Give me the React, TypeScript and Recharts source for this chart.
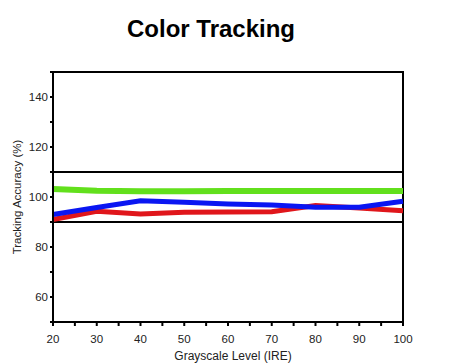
import { LineChart, Line, XAxis, YAxis, ReferenceLine, ReferenceArea } from 'recharts';

const levels = [20, 30, 40, 50, 60, 70, 80, 90, 100];
const red = [91, 94.3, 93.2, 93.9, 94, 94.1, 96.6, 95.6, 94.5];
const green = [103.2, 102.5, 102.3, 102.3, 102.4, 102.4, 102.4, 102.4, 102.4];
const blue = [93, 95.8, 98.5, 97.9, 97.2, 96.8, 95.9, 95.9, 98.3];

const xTicks = [20, 25, 30, 35, 40, 45, 50, 55, 60, 65, 70, 75, 80, 85, 90, 95, 100];
const yTicks = [50, 60, 70, 80, 90, 100, 110, 120, 130, 140, 150];
const yLabelled = [60, 80, 100, 120, 140];

const data = levels.map((level, i) => ({ level, red: red[i], green: green[i], blue: blue[i] }));

const font = '"Liberation Sans", Arial, sans-serif';
const tickStyle = { fontSize: 11.5, fill: '#222', fontFamily: font };

export default function App() {
    return (
        <div style={{ position: 'absolute', left: 0, top: 0, width: 450, height: 364, background: '#fff', fontFamily: font }}>
            <div style={{ position: 'absolute', left: 0, width: 422, top: 15, textAlign: 'center', fontSize: 24, fontWeight: 'bold', color: '#000' }}>
                Color Tracking
            </div>
            <div
                style={{
                    position: 'absolute', left: 17, top: 197, fontSize: 11.5, color: '#222', whiteSpace: 'nowrap',
                    transform: 'translate(-50%, -50%) rotate(-90deg)',
                }}
            >
                Tracking Accuracy (%)
            </div>
            <div style={{ position: 'absolute', left: 0, width: 466, top: 349, textAlign: 'center', fontSize: 12, color: '#222' }}>
                Grayscale Level (IRE)
            </div>
            <LineChart width={450} height={364} data={data} margin={{ top: 72, right: 47, bottom: 0, left: 0 }}>
                <XAxis
                    dataKey="level"
                    type="number"
                    domain={[20, 100]}
                    ticks={xTicks}
                    interval={0}
                    tickFormatter={(v: number) => (v % 10 === 0 ? String(v) : '')}
                    height={42}
                    tick={tickStyle}
                    tickSize={4}
                    tickMargin={9}
                    axisLine={{ stroke: '#000', strokeWidth: 2 }}
                    tickLine={{ stroke: '#000', strokeWidth: 2 }}
                />
                <YAxis
                    type="number"
                    domain={[50, 150]}
                    ticks={yTicks}
                    interval={0}
                    tickFormatter={(v: number) => (yLabelled.includes(v) ? String(v) : '')}
                    width={53}
                    tick={tickStyle}
                    tickSize={3}
                    tickMargin={2}
                    axisLine={{ stroke: '#000', strokeWidth: 2 }}
                    tickLine={{ stroke: '#000', strokeWidth: 2 }}
                />
                <ReferenceArea x1={20} x2={100} y1={50} y2={150} fill="none" stroke="#000" strokeWidth={2} fillOpacity={0} />
                <ReferenceLine y={110} stroke="#000" strokeWidth={2} />
                <ReferenceLine y={90} stroke="#000" strokeWidth={2} />
                <Line dataKey="red" stroke="#e0161b" strokeWidth={5} dot={false} isAnimationActive={false} />
                <Line dataKey="blue" stroke="#0a16f2" strokeWidth={5} dot={false} isAnimationActive={false} />
                <Line dataKey="green" stroke="#62e01c" strokeWidth={6} dot={false} isAnimationActive={false} />
            </LineChart>
        </div>
    );
}
